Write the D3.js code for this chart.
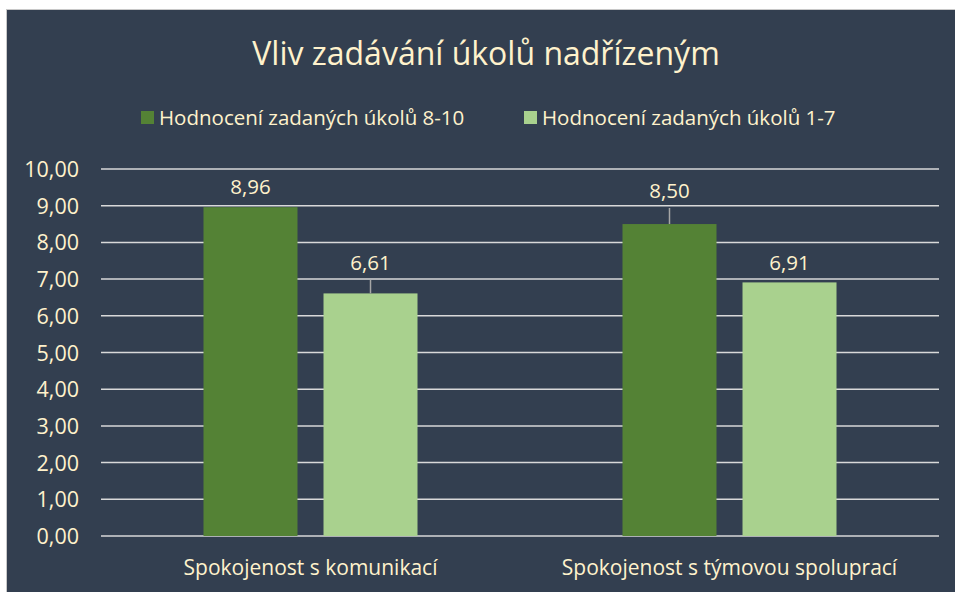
<!DOCTYPE html>
<html>
<head>
<meta charset="utf-8">
<script src="https://cdn.jsdelivr.net/npm/d3@7"></script>
<style>
  body { margin: 0; background: #fff; }
  text { font-family: "Open Sans", sans-serif; fill: #fff2cc; }
</style>
</head>
<body>
<svg id="chart" width="955" height="592"></svg>
<script>
const categories = ["Spokojenost s komunikací", "Spokojenost s týmovou spoluprací"];
const seriesNames = ["Hodnocení zadaných úkolů 8-10", "Hodnocení zadaných úkolů 1-7"];
const high = [8.96, 8.50];
const low = [6.61, 6.91];
const yTicks = [0, 1, 2, 3, 4, 5, 6, 7, 8, 9, 10];

const colors = ["#548235", "#a9d18e"];
// label positions in axis units (labels were moved by hand in the original)
const labelAt = [[9.51, 7.44], [9.40, 7.44]];

const svg = d3.select("#chart");
const fmt = v => d3.format(".2f")(v).replace(".", ",");

// frame
svg.append("rect")
  .attr("x", 6.5).attr("y", 9.5)
  .attr("width", 955).attr("height", 592)
  .attr("fill", "#333f50")
  .attr("stroke", "#c8c8c8");

svg.append("text")
  .attr("x", 486).attr("y", 65)
  .attr("text-anchor", "middle")
  .style("font-size", "32px")
  .text("Vliv zadávání úkolů nadřízeným");

// legend
const legendX = [141, 524];
seriesNames.forEach((name, i) => {
  const g = svg.append("g").attr("transform", `translate(${legendX[i]},118)`);
  g.append("rect").attr("x", 0).attr("y", -7).attr("width", 13).attr("height", 13).attr("fill", colors[i]);
  g.append("text").attr("x", 18).attr("y", 7).style("font-size", "20.5px").text(name);
});

const x = d3.scaleBand().domain(categories).range([101, 939]);
const xs = d3.scaleBand().domain([0, 1]).range([0, x.bandwidth()]).paddingInner(0.2167).paddingOuter(0.854);
const y = d3.scaleLinear().domain([0, 10]).range([536, 169]);

// gridlines
svg.append("g").selectAll("line").data(yTicks).join("line")
  .attr("x1", 101).attr("x2", 939)
  .attr("y1", d => y(d)).attr("y2", d => y(d))
  .attr("stroke", "#d9d9d9").attr("stroke-width", 1.5);

// y axis
const yAxis = svg.append("g")
  .attr("transform", "translate(79,0)")
  .call(d3.axisLeft(y).tickValues(yTicks).tickFormat(fmt).tickSize(0).tickPadding(0));
yAxis.select(".domain").remove();
yAxis.selectAll("text").style("font-size", "21.5px").attr("fill", "#fff2cc").attr("dy", "0.35em");

// x axis labels
const xAxis = svg.append("g")
  .attr("transform", "translate(0,575)")
  .call(d3.axisBottom(x).tickSize(0).tickPadding(0));
xAxis.select(".domain").remove();
xAxis.selectAll("text").style("font-size", "21px").attr("fill", "#fff2cc").attr("y", 0).attr("dy", 0);

const series = [high, low];
series.forEach((vals, s) => {
  const g = svg.append("g");
  g.selectAll("rect").data(vals).join("rect")
    .attr("x", (d, i) => x(categories[i]) + xs(s))
    .attr("width", xs.bandwidth())
    .attr("y", d => y(d))
    .attr("height", d => y(0) - y(d))
    .attr("fill", colors[s]);

  vals.forEach((v, i) => {
    const cx = x(categories[i]) + xs(s) + xs.bandwidth() / 2;
    const ly = y(labelAt[i][s]);
    if (y(v) - (ly + 17) > 6) {
      g.append("line")
        .attr("x1", cx).attr("x2", cx)
        .attr("y1", ly + 17).attr("y2", y(v))
        .attr("stroke", "#a6a6a6").attr("stroke-width", 1.5);
    }
    g.append("text")
      .attr("x", cx).attr("y", ly)
      .attr("dy", "0.35em")
      .attr("text-anchor", "middle")
      .style("font-size", "20.5px")
      .text(fmt(v));
  });
});
</script>
</body>
</html>
